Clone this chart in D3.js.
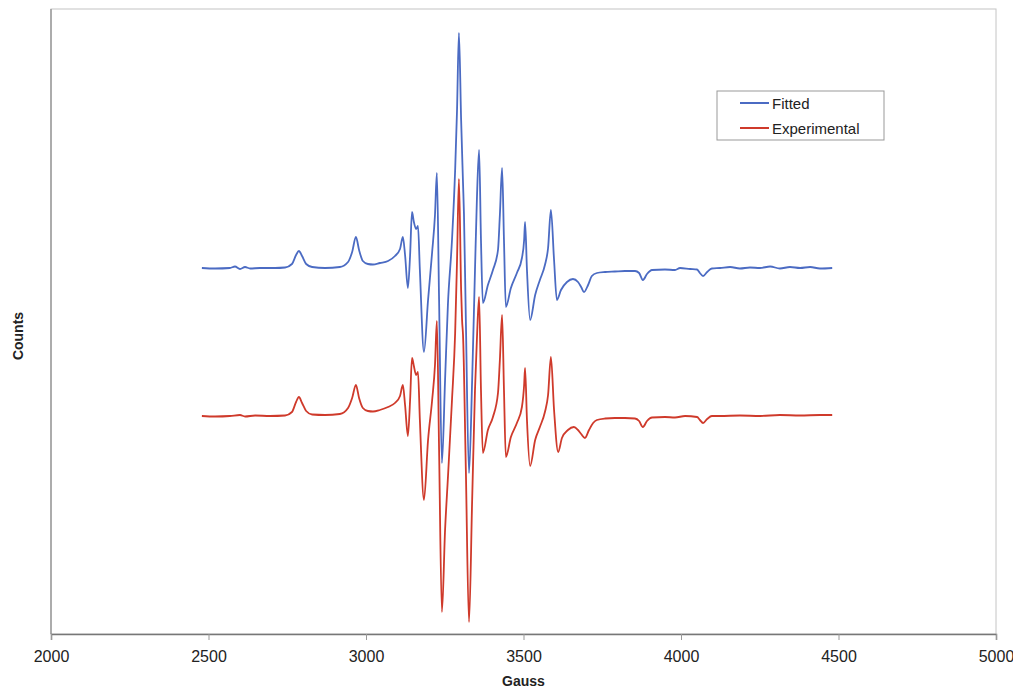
<!DOCTYPE html>
<html>
<head>
<meta charset="utf-8">
<script src="https://cdn.jsdelivr.net/npm/d3@7"></script>
<style>
  body { margin: 0; background: #fff; }
  svg { display: block; font-family: "Liberation Sans", Arial, sans-serif; }
</style>
</head>
<body>
<svg id="chart" width="1013" height="690"></svg>
<script>
// ---- Data ----
const xTicks = [2000, 2500, 3000, 3500, 4000, 4500, 5000];
const seriesNames = ["Fitted", "Experimental"];

const fittedGauss = [2479,2521,2568,2584,2600,2616,2632,2663,2711,2743,2765,2778,2787,2797,2810,2829,2870,2917,2943,2956,2968,2978,2990,3006,3022,3044,3070,3092,3108,3117,3124,3133,3140,3146,3152,3159,3165,3171,3184,3197,3210,3219,3225,3232,3241,3251,3260,3273,3283,3289,3295,3302,3308,3311,3317,3327,3337,3346,3352,3359,3365,3371,3387,3403,3419,3425,3432,3438,3444,3460,3479,3495,3502,3505,3511,3521,3537,3552,3568,3578,3587,3597,3606,3619,3638,3657,3673,3683,3692,3705,3717,3733,3759,3790,3822,3854,3867,3879,3892,3908,3949,3981,3997,4029,4051,4060,4070,4083,4098,4124,4156,4187,4219,4251,4283,4314,4346,4378,4410,4441,4480];
const fittedCounts = [366,365.5,366,367.5,365,367,365.5,366,366,366.5,370,379,383,378,370,367,366,367,372,382,397,384,373,370,369.5,371,373,378,385,397,379,346,379,422,412,405,408,364,282,334,382,419,461,334,171,254,329,394,464,524,601,514,451,420,314,161,254,364,434,484,394,331,349,364,384,419,466,394,327,346,361,376,394,412,364,314,339,354,369,386,424,374,334,344,352,355,352,347,342,349,358,361,362,362.5,363,363,361,354,360,364,364.5,364,366,365,364.5,361,358,362,365.5,366,367,365.5,366.5,366,367.5,365.5,367,366,367,365.5,366];

const expGauss = [2479,2521,2568,2600,2616,2648,2695,2743,2765,2778,2787,2797,2810,2829,2870,2917,2943,2956,2968,2978,2990,3006,3022,3044,3070,3092,3108,3117,3124,3133,3140,3146,3152,3159,3165,3171,3184,3197,3210,3219,3225,3232,3241,3251,3260,3273,3283,3289,3295,3302,3305,3308,3317,3327,3337,3346,3352,3359,3365,3371,3387,3403,3419,3425,3432,3438,3444,3460,3479,3495,3502,3505,3511,3521,3537,3552,3568,3578,3587,3597,3610,3622,3641,3660,3673,3683,3695,3708,3721,3733,3759,3790,3822,3854,3867,3879,3892,3908,3949,3981,4013,4051,4060,4070,4083,4098,4124,4187,4251,4314,4378,4441,4480];
const expCounts = [218,217.5,218,219,217.5,218.5,218,218.5,222,232,237,231,223,219.5,219,220,226,236,249,236,226,223,222.5,224,227,231,238,249,229,198,234,276,268,259,262,214,134,194,234,269,313,184,22,104,156,234,301,374,455,344,314,299,164,12,134,244,294,337,244,181,204,217,241,274,319,244,177,197,211,227,249,266,214,168,194,207,222,239,277,224,182,196,204,207,204,200,196,204,211,214,215.5,216,216,215.5,213,207,213,216.5,217,216.5,218,217,214,211,215,218,218,218.5,218,219,218.5,219,219];

// ---- Layout ----
const svg = d3.select("#chart");
const mLeft = 51, mRight = 996, mTop = 9, mBottom = 634;

const x = d3.scaleLinear().domain([2000, 5000]).range([mLeft, mRight]);
const y = d3.scaleLinear().domain([0, 625]).range([mBottom, mTop]);

// plot frame
svg.append("rect")
  .attr("x", mLeft).attr("y", mTop)
  .attr("width", mRight - mLeft).attr("height", mBottom - mTop)
  .attr("fill", "none").attr("stroke", "#c4c4c4").attr("stroke-width", 1);
svg.append("line")
  .attr("x1", mLeft).attr("x2", mLeft).attr("y1", mTop).attr("y2", mBottom)
  .attr("stroke", "#9a9a9a").attr("stroke-width", 1.5);

// x axis
const xAxis = d3.axisBottom(x).tickValues(xTicks).tickSize(6).tickPadding(11).tickFormat(d3.format("d"));
const gx = svg.append("g").attr("transform", `translate(0,${mBottom})`).call(xAxis);
gx.select(".domain").attr("stroke", "#777").attr("stroke-width", 1.5);
gx.selectAll(".tick line").attr("stroke", "#999");
gx.selectAll(".tick text").attr("font-size", 16).attr("fill", "#222")
  .attr("font-family", "'Liberation Sans', Arial, sans-serif");

// axis titles
svg.append("text").attr("x", (mLeft + mRight) / 2).attr("y", 686)
  .attr("text-anchor", "middle").attr("font-size", 14).attr("font-weight", "bold")
  .attr("fill", "#222").text("Gauss");
svg.append("text").attr("transform", "translate(23,336) rotate(-90)")
  .attr("text-anchor", "middle").attr("font-size", 14).attr("font-weight", "bold")
  .attr("fill", "#222").text("Counts");

// series
const colors = ["#4b6bc3", "#cf3a2b"];
const line = d3.line().x(d => x(d[0])).y(d => y(d[1])).curve(d3.curveMonotoneX);
const fittedData = fittedGauss.map((g, i) => [g, fittedCounts[i]]);
const expData = expGauss.map((g, i) => [g, expCounts[i]]);

svg.append("path").datum(expData).attr("d", line)
  .attr("fill", "none").attr("stroke", colors[1]).attr("stroke-width", 1.8)
  .attr("stroke-linejoin", "round");
svg.append("path").datum(fittedData).attr("d", line)
  .attr("fill", "none").attr("stroke", colors[0]).attr("stroke-width", 1.8)
  .attr("stroke-linejoin", "round");

// legend
const lg = svg.append("g").attr("transform", "translate(717,91)");
lg.append("rect").attr("width", 167).attr("height", 49)
  .attr("fill", "#fff").attr("stroke", "#999").attr("stroke-width", 1);
seriesNames.forEach((name, i) => {
  const yy = 12 + i * 25;
  lg.append("line").attr("x1", 23).attr("x2", 52).attr("y1", yy).attr("y2", yy)
    .attr("stroke", colors[i]).attr("stroke-width", 2);
  lg.append("text").attr("x", 55).attr("y", yy + 5.5)
    .attr("font-size", 15).attr("fill", "#222").text(name);
});
</script>
</body>
</html>
